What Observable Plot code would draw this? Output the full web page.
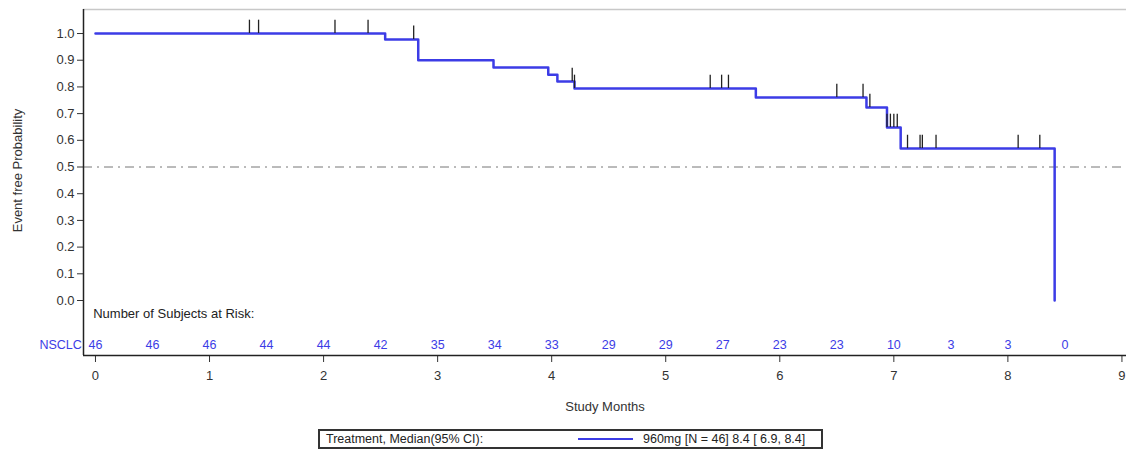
<!DOCTYPE html>
<html>
<head>
<meta charset="utf-8">
<script src="https://cdn.jsdelivr.net/npm/d3@7"></script>
<script src="https://cdn.jsdelivr.net/npm/@observablehq/plot@0.6"></script>
<style>
  html, body { margin: 0; padding: 0; background: #fff; }
  #chart { width: 1129px; }
  .legend-wrap { width: 1129px; height: 30px; position: relative; }
  .legend {
    position: absolute; left: 318px; top: 4px; width: 505px; height: 20px;
    border: 2px solid #333; box-sizing: border-box;
    font: 12.5px "Liberation Sans", Arial, sans-serif; color: #222;
    display: flex; align-items: center; white-space: nowrap;
  }
  .legend .lab { margin-left: 6px; width: 252px; }
  .legend .sw { width: 55px; height: 0; border-top: 2.5px solid #3c3ce6; margin-right: 10px; }
</style>
</head>
<body>
<div id="chart"></div>
<div class="legend-wrap"><div class="legend"><span class="lab">Treatment, Median(95% CI):</span><span class="sw"></span><span>960mg [N = 46] 8.4 [ 6.9, 8.4]</span></div></div>
<script>
// Kaplan-Meier step points (month, survival)
const stepTimes = [0, 2.54, 2.83, 3.49, 3.97, 4.05, 4.20, 5.79, 6.76, 6.94, 7.06, 8.41];
const stepSurv  = [1.0, 0.978, 0.900, 0.873, 0.846, 0.820, 0.794, 0.760, 0.723, 0.648, 0.569, 0.0];

// Censored observations
const censorTimes = [1.35, 1.43, 2.10, 2.39, 2.79, 4.18, 4.20, 5.39, 5.49, 5.55, 6.50, 6.73, 6.79, 6.94, 6.97, 7.00, 7.03, 7.12, 7.23, 7.25, 7.37, 8.09, 8.28];
const censorSurv  = [1.0, 1.0, 1.0, 1.0, 0.978, 0.820, 0.794, 0.794, 0.794, 0.794, 0.760, 0.760, 0.723, 0.648, 0.648, 0.648, 0.648, 0.569, 0.569, 0.569, 0.569, 0.569, 0.569];

// Number at risk
const riskTimes  = [0, 0.5, 1, 1.5, 2, 2.5, 3, 3.5, 4, 4.5, 5, 5.5, 6, 6.5, 7, 7.5, 8, 8.5];
const riskCounts = [46, 46, 46, 44, 44, 42, 35, 34, 33, 29, 29, 27, 23, 23, 10, 3, 3, 0];

const xTicks = [0, 1, 2, 3, 4, 5, 6, 7, 8, 9];
const yTicks = [0, 0.1, 0.2, 0.3, 0.4, 0.5, 0.6, 0.7, 0.8, 0.9, 1.0];

const steps = stepTimes.map((t, i) => ({t, s: stepSurv[i]}));
const censors = censorTimes.map((t, i) => ({t, s: censorSurv[i]}));
const risk = riskTimes.map((t, i) => ({t, n: riskCounts[i]}));

const blue = "#3c3ce6";
const font = "'Liberation Sans', Arial, sans-serif";

const chart = Plot.plot({
  width: 1129,
  height: 425,
  marginLeft: 83,
  marginRight: 3,
  marginTop: 9,
  marginBottom: 70,
  style: {fontFamily: font, fontSize: "13px", color: "#333", background: "#fff"},
  x: {domain: [-0.105, 9.04]},
  y: {domain: [-0.206, 1.09]},
  marks: [
    Plot.ruleY([1.09], {stroke: "#c8c8c8", strokeWidth: 1.5}),
    Plot.ruleY([0.5], {stroke: "#777", strokeWidth: 1, strokeDasharray: "9,5,2,5"}),
    Plot.line(steps, {x: "t", y: "s", curve: "step-after", stroke: blue, strokeWidth: 2.5}),
    Plot.ruleX(censors, {x: "t", y1: "s", y2: d => d.s + 0.05, stroke: "#222", strokeWidth: 1.3}),
    Plot.text(["Number of Subjects at Risk:"], {x: -0.02, y: -0.049, text: d => d, textAnchor: "start", fill: "#222", fontSize: 13}),
    Plot.text(risk, {x: "t", y: -0.168, text: "n", fill: blue, fontSize: 12.5}),
    Plot.text(["NSCLC"], {x: -0.12, y: -0.168, text: d => d, textAnchor: "end", fill: blue, fontSize: 12.5}),
    Plot.axisY(yTicks, {tickFormat: ".1f", tickSize: 6, tickPadding: 3, fontSize: 13, label: null}),
    Plot.text(["Event free Probability"], {frameAnchor: "left", textAnchor: "middle", rotate: -90, dx: -66, dy: -12, text: d => d, fill: "#333", fontSize: 13}),
    Plot.axisX(xTicks, {tickFormat: "d", tickSize: 7, tickPadding: 8, fontSize: 13,
      label: "Study Months", labelAnchor: "center", labelArrow: "none", labelOffset: 55}),
    Plot.ruleX([-0.105], {stroke: "#222", strokeWidth: 1.5}),
    Plot.ruleY([-0.206], {stroke: "#222", strokeWidth: 1.5})
  ]
});
document.getElementById("chart").appendChild(chart);
</script>
</body>
</html>
